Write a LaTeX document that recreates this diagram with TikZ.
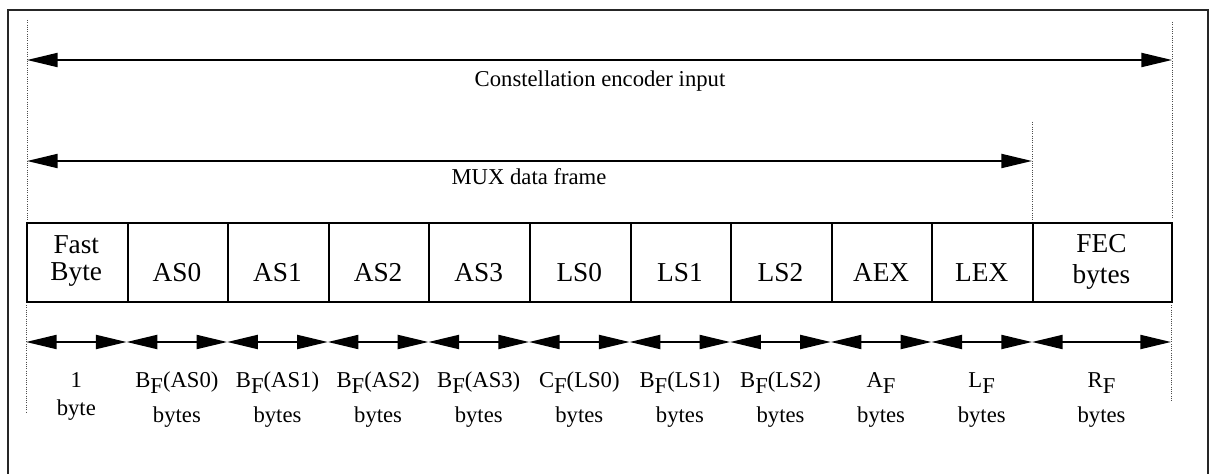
\documentclass[tikz,border=0pt]{standalone}
\usepackage{fontspec}
\setmainfont{Liberation Serif}
\usetikzlibrary{arrows.meta}
% lowered, full-size subscript letter as used in the byte counts
\newcommand\lowsub[1]{\raisebox{-5pt}{#1}}
\begin{document}
\begin{tikzpicture}[x=0.75pt,y=-0.75pt,
  frameline/.style={line width=0.9pt, black!85},
  guide/.style={densely dotted, line width=0.7pt, black!70},
  span/.style={line width=1.5pt,
    {Triangle[length=23pt,width=10.5pt]}-{Triangle[length=23pt,width=10.5pt]}},
  cell/.style={draw, line width=1.5pt, minimum width=75.45pt,
    minimum height=59.25pt, inner sep=0pt, anchor=north west},
  celltext/.style={font=\fontsize{20.5}{20.25}\selectfont, align=center,
    inner sep=0pt, anchor=base},
  sizetext/.style={font=\fontsize{17}{26.25}\selectfont, align=center,
    inner sep=0pt, anchor=base},
  toptext/.style={font=\fontsize{17}{20}\selectfont, inner sep=0pt, anchor=base}]
\useasboundingbox (0,0) rectangle (1210,474);

% outer frame (open at the bottom)
\draw[frameline] (8,474) -- (8,10) -- (1208,10) -- (1208,474);

% dotted extension lines
\draw[guide] (27,20) -- (27,222);
\draw[guide] (1172,22) -- (1172,218);
\draw[guide] (1032,122) -- (1032,222);
\draw[guide] (26,305) -- (26,412);
\draw[guide] (1171,305) -- (1171,402);

% overall spans
\coordinate (cL) at (27,60);
\coordinate (cR) at (1172,60);
\coordinate (mL) at (27,161);
\coordinate (mR) at (1032,161);
\draw[span] (cL) -- (cR);
\draw[span] (mL) -- (mR);
\node[toptext] (cin) at (600,87) {Constellation encoder input};
\node[toptext] (mux) at (529,185) {MUX data frame};

% frame fields
\foreach \k in {0,...,9}
  \node[cell] (c\k) at ({26+100.6*\k},222) {};
\node[cell, minimum width=104.25pt] (fec) at (1032,222) {};

% (multi-line nodes are anchored at the baseline of their last line)
\node[celltext] (t0) at (76.3,280) {Fast\\Byte};
\foreach \k/\lab in {1/AS0,2/AS1,3/AS2,4/AS3,5/LS0,6/LS1,7/LS2,8/AEX,9/LEX}
  \node[celltext] (t\k) at ({76.3+100.6*\k},281) {\lab};
\node[celltext, font=\fontsize{20.5}{23.25}\selectfont] (tfec) at (1101.5,283) {FEC\\bytes};

% per-field size arrows
\foreach \k in {0,...,10}
  \coordinate (b\k) at ({26+100.6*\k},342);
\coordinate (b11) at (1171,342);
\foreach \k [evaluate=\k as \n using int(\k+1)] in {0,...,10}
  \draw[span] (b\k) -- (b\n);

% field sizes
\node[sizetext, font=\fontsize{17}{21}\selectfont] (s0) at (76.3,415) {1\\byte};
\node[sizetext] (s1) at (176.9,422) {B\lowsub{F}(AS0)\\bytes};
\node[sizetext] (s2) at (277.5,422) {B\lowsub{F}(AS1)\\bytes};
\node[sizetext] (s3) at (378.1,422) {B\lowsub{F}(AS2)\\bytes};
\node[sizetext] (s4) at (478.7,422) {B\lowsub{F}(AS3)\\bytes};
\node[sizetext] (s5) at (579.3,422) {C\lowsub{F}(LS0)\\bytes};
\node[sizetext] (s6) at (679.9,422) {B\lowsub{F}(LS1)\\bytes};
\node[sizetext] (s7) at (780.5,422) {B\lowsub{F}(LS2)\\bytes};
\node[sizetext] (s8) at (881.1,422) {A\lowsub{F}\\bytes};
\node[sizetext] (s9) at (981.7,422) {L\lowsub{F}\\bytes};
\node[sizetext] (s10) at (1101.5,422) {R\lowsub{F}\\bytes};
\end{tikzpicture}
\end{document}
